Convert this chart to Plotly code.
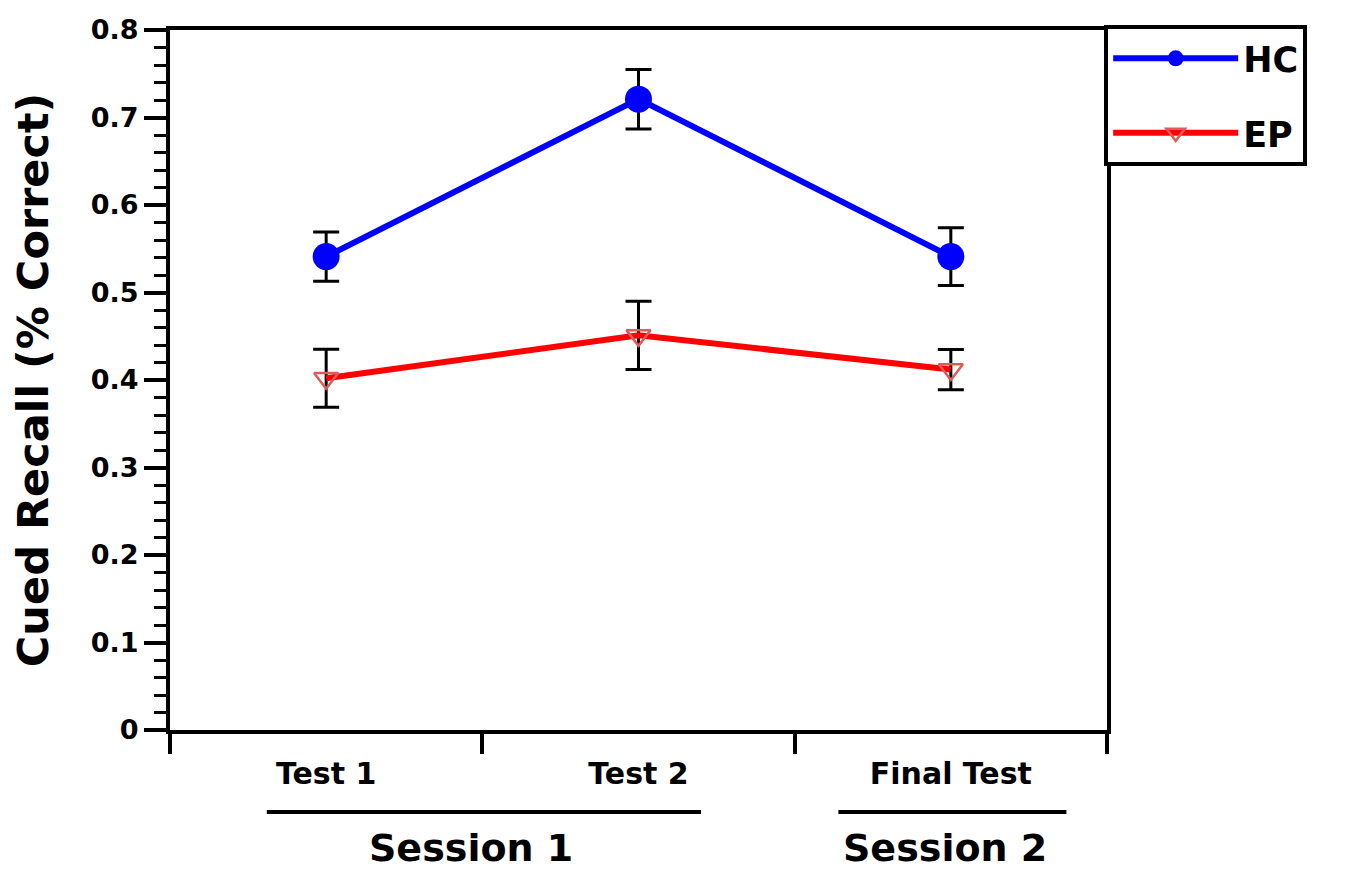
import plotly.graph_objects as go

# ---- data ----
categories = ["Test 1", "Test 2", "Final Test"]
x_pos = [0.5, 1.5, 2.5]
hc_mean = [0.541, 0.721, 0.541]
hc_err = [0.028, 0.034, 0.033]
ep_mean = [0.402, 0.451, 0.412]
ep_err = [0.033, 0.039, 0.023]
y_ticks = [0, 0.1, 0.2, 0.3, 0.4, 0.5, 0.6, 0.7, 0.8]
y_ticktext = ["0", "0.1", "0.2", "0.3", "0.4", "0.5", "0.6", "0.7", "0.8"]
sessions = ["Session 1", "Session 2"]
session_spans = [(0.31, 1.70), (2.14, 2.87)]
session_centers = [0.965, 2.48]

FONT = "DejaVu Sans"

fig = go.Figure()
fig.add_trace(go.Scatter(
    x=x_pos, y=hc_mean, mode="lines+markers", name="HC",
    line=dict(color="#0000ff", width=6),
    marker=dict(symbol="circle", size=27, color="#0000ff"),
    error_y=dict(type="data", array=hc_err, color="black", thickness=3, width=13),
    legendgroup="hc",
))
fig.add_trace(go.Scatter(
    x=x_pos, y=ep_mean, mode="lines+markers", name="EP",
    line=dict(color="#ff0000", width=6),
    marker=dict(symbol="triangle-down-open", size=21, color="#e05a5a",
                line=dict(width=2.5, color="#d84848")),
    error_y=dict(type="data", array=ep_err, color="black", thickness=3, width=13),
    legendgroup="ep",
))

# session brackets and labels
for name, (a, b), c in zip(sessions, session_spans, session_centers):
    fig.add_shape(type="line", xref="x", yref="paper", x0=a, x1=b, y0=-0.117, y1=-0.117,
                  line=dict(color="black", width=4))
    fig.add_annotation(x=c, y=-0.169, xref="x", yref="paper", text=name, showarrow=False,
                       font=dict(family=FONT, size=38, color="black", weight="bold"),
                       yanchor="middle")

fig.update_layout(
    width=1339, height=865,
    margin=dict(l=162, r=240, t=22, b=143, autoexpand=False),
    plot_bgcolor="white", paper_bgcolor="white",
    font=dict(family=FONT, color="black", weight="bold"),
    showlegend=True,
    legend=dict(
        x=0.997, y=1.007, xanchor="left", yanchor="top",
        bordercolor="black", borderwidth=4, bgcolor="white",
        font=dict(family=FONT, size=35, color="black", weight="bold"),
        traceorder="grouped", tracegroupgap=26, itemwidth=125,
    ),
    xaxis=dict(
        range=[0, 3], showgrid=False, zeroline=False,
        showline=True, linecolor="black", linewidth=4, mirror=True,
        tickmode="array", tickvals=x_pos, ticktext=categories,
        ticks="", ticklabelstandoff=14,
        tickfont=dict(family=FONT, size=30, color="black", weight="bold"),
        minor=dict(tickmode="array", tickvals=[0, 1, 2, 3], ticks="outside",
                   ticklen=20, tickwidth=4, tickcolor="black"),
    ),
    yaxis=dict(
        range=[0, 0.8], showgrid=False, zeroline=False,
        showline=True, linecolor="black", linewidth=4, mirror=True,
        tickmode="array", tickvals=y_ticks, ticktext=y_ticktext,
        ticks="outside", ticklen=22, tickwidth=4, tickcolor="black",
        tickfont=dict(family=FONT, size=27, color="black", weight="bold"),
        minor=dict(dtick=0.02, ticks="outside", ticklen=12, tickwidth=3,
                   tickcolor="black", showgrid=False),
        title=dict(text="Cued Recall (% Correct)", standoff=31,
                   font=dict(family=FONT, size=43, color="black", weight="bold")),
    ),
)

fig.write_html("out.html")
